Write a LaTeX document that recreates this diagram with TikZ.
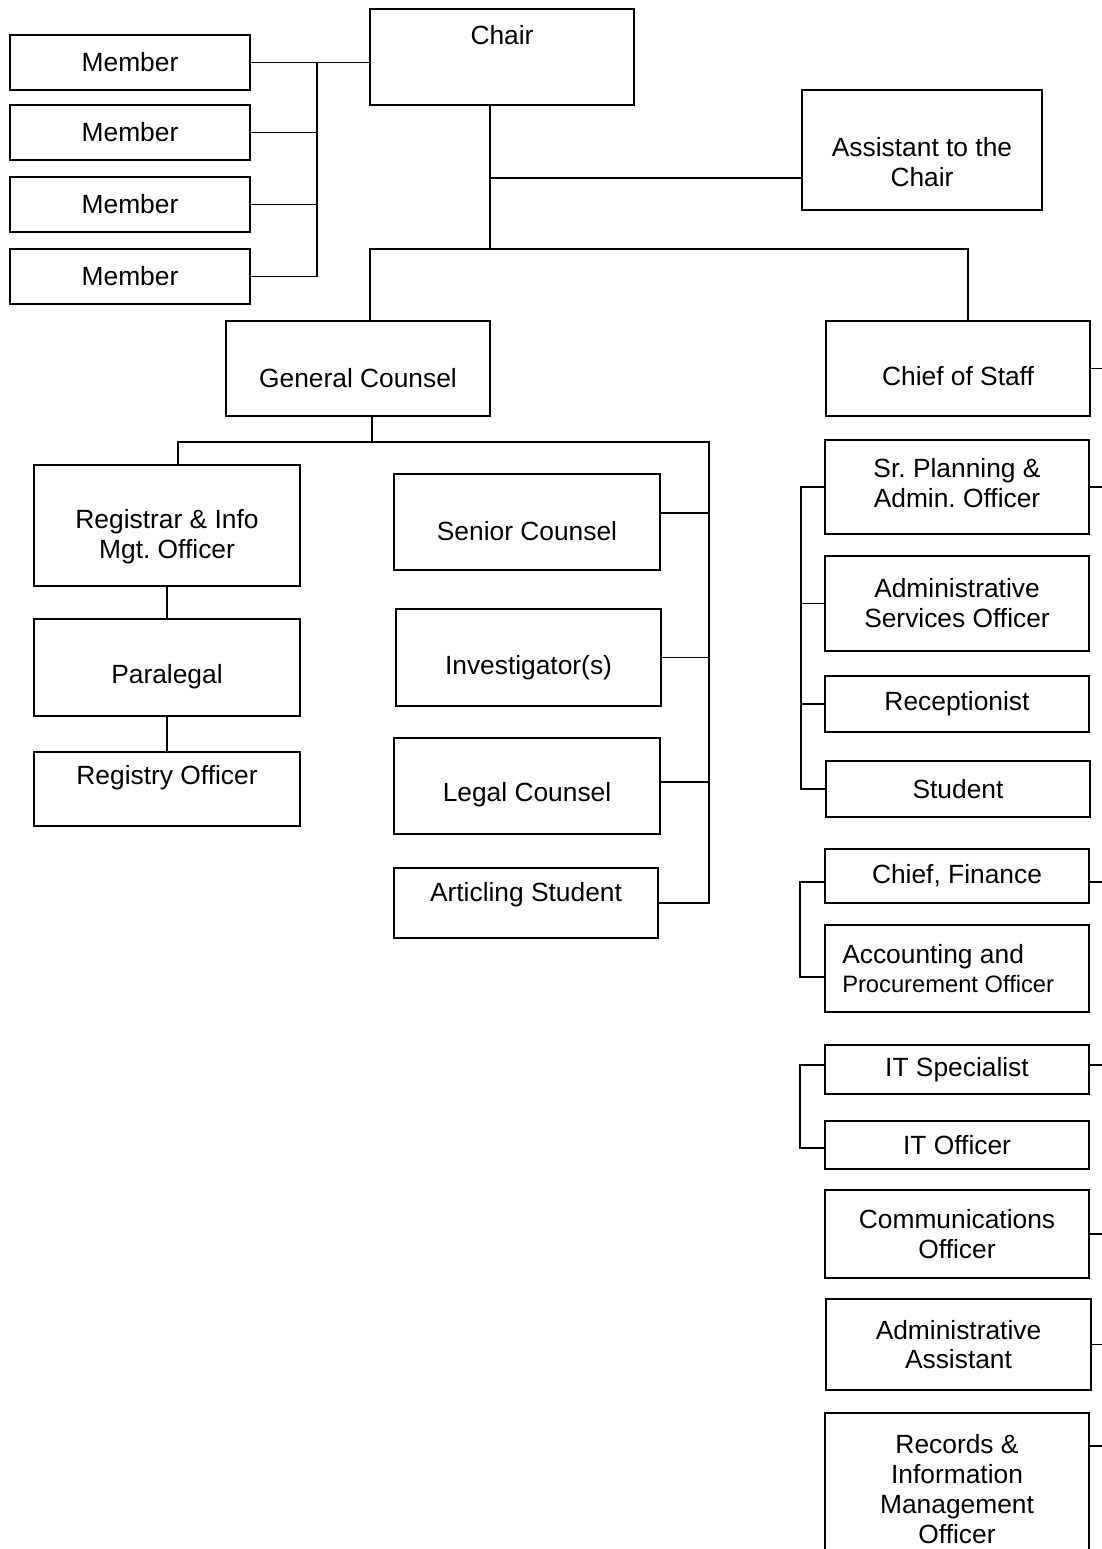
\documentclass[tikz,border=0pt]{standalone}
\usepackage{fontspec}
\setmainfont{Liberation Sans}
\usetikzlibrary{positioning,calc}
\frenchspacing

\tikzset{
  box/.style={draw,line width=1.1pt,inner sep=2pt,align=center,
              font=\fontsize{15}{17}\selectfont},
  txt/.style={align=center,font=\fontsize{15}{17}\selectfont},
  link/.style={line width=1pt}
}

\begin{document}
\begin{tikzpicture}[x=0.02cm,y=-0.02cm]
\useasboundingbox (0,0) rectangle (1102,1549);

% board
\node[box,minimum width=5.28cm,minimum height=1.92cm,
      label={[txt,yshift=0.44cm]center:Chair}] (chair) at (502,57) {};
\node[box,minimum width=4.8cm,minimum height=1.1cm] (mem1) at (130,62.5) {Member};
\node[box,minimum width=4.8cm,minimum height=1.1cm] (mem2) at (130,132.5) {Member};
\node[box,minimum width=4.8cm,minimum height=1.1cm] (mem3) at (130,204.5) {Member};
\node[box,minimum width=4.8cm,minimum height=1.1cm] (mem4) at (130,276.5) {Member};
\node[box,minimum width=4.8cm,minimum height=2.4cm,
      label={[txt,yshift=-0.24cm]center:Assistant to the\\Chair}] (asst) at (922,150) {};

% second level
\node[box,minimum width=5.28cm,minimum height=1.9cm,
      label={[txt,yshift=-0.2cm]center:General Counsel}] (gc) at (358,368.5) {};
\node[box,minimum width=5.28cm,minimum height=1.9cm,
      label={[txt,yshift=-0.16cm]center:Chief of Staff}] (cos) at (958,368.5) {};

% legal side
\node[box,minimum width=5.32cm,minimum height=2.42cm,
      label={[txt,yshift=-0.22cm]center:Registrar \& Info\\Mgt. Officer}] (reg) at (167,525.5) {};
\node[box,minimum width=5.32cm,minimum height=1.94cm,
      label={[txt,yshift=-0.18cm]center:Paralegal}] (para) at (167,667.5) {};
\node[box,minimum width=5.32cm,minimum height=1.48cm,
      label={[txt,yshift=0.22cm]center:Registry Officer}] (regoff) at (167,789) {};
\node[box,minimum width=5.32cm,minimum height=1.92cm,
      label={[txt,yshift=-0.18cm]center:Senior Counsel}] (senior) at (527,522) {};
\node[box,minimum width=5.3cm,minimum height=1.94cm,
      label={[txt,yshift=-0.2cm]center:Investigator(s)}] (invest) at (528.5,657.5) {};
\node[box,minimum width=5.32cm,minimum height=1.92cm,
      label={[txt,yshift=-0.18cm]center:Legal Counsel}] (legal) at (527,786) {};
\node[box,minimum width=5.28cm,minimum height=1.4cm,
      label={[txt,yshift=0.16cm]center:Articling Student}] (artic) at (526,903) {};

% staff side
\node[box,minimum width=5.28cm,minimum height=1.88cm,
      label={[txt,yshift=0.08cm]center:Sr. Planning \&\\Admin. Officer}] (plan) at (957,487) {};
\node[box,minimum width=5.28cm,minimum height=1.9cm] (adsvc) at (957,603.5) {Administrative\\Services Officer};
\node[box,minimum width=5.28cm,minimum height=1.12cm] (recep) at (957,704) {Receptionist};
\node[box,minimum width=5.28cm,minimum height=1.12cm] (stud) at (958,789) {Student};
\node[box,minimum width=5.28cm,minimum height=1.08cm] (fin) at (957,876) {Chief, Finance};
\node[box,minimum width=5.28cm,minimum height=1.74cm,
      label={[txt,align=left,anchor=west,xshift=0.24cm]west:Accounting and\\
             {\fontsize{13.5}{17}\selectfont Procurement Officer}}] (acct) at (957,968.5) {};
\node[box,minimum width=5.28cm,minimum height=0.98cm] (itspec) at (957,1069.5) {IT Specialist};
\node[box,minimum width=5.28cm,minimum height=0.96cm] (itoff) at (957,1145) {IT Officer};
\node[box,minimum width=5.28cm,minimum height=1.76cm] (comm) at (957,1234) {Communications\\Officer};
\node[box,minimum width=5.3cm,minimum height=1.82cm] (adasst) at (958.5,1344.5) {Administrative\\Assistant};
\node[box,minimum width=5.28cm,minimum height=3.04cm] (rim) at (957,1489) {Records \&\\Information\\Management\\Officer};

% bus lines
\coordinate (mbus) at (317,0);
\coordinate (trunk) at (490,249);
\coordinate (gcin) at (370,249);
\coordinate (cosin) at (968,249);
\coordinate (gcfork) at (372,442);
\coordinate (regin) at (178,442);
\coordinate (lbus) at (709,442);
\coordinate (sbus) at (801,0);
\coordinate (fbus) at (800,0);
\coordinate (edge) at (1102,0);

\draw[link] (mem1.east) -- (chair.west |- mem1.east);
\draw[link] (mem1.east -| mbus) -- (mem4.east -| mbus) -- (mem4.east);
\draw[link] (mem2.east) -- (mem2.east -| mbus);
\draw[link] (mem3.east) -- (mem3.east -| mbus);

\draw[link] (trunk |- chair.south) -- (trunk);
\draw[link] ([yshift=-0.56cm]asst.west) -- ([yshift=-0.56cm]asst.west -| trunk);
\draw[link] (gcin |- gc.north) -- (gcin) -- (cosin) -- (cosin |- cos.north);

\draw[link] (gcfork |- gc.south) -- (gcfork);
\draw[link] (regin |- reg.north) -- (regin) -- (lbus) -- (lbus |- artic.east) -- (artic.east);
\draw[link] ([yshift=0.18cm]senior.east) -- ([yshift=0.18cm]senior.east -| lbus);
\draw[link] (invest.east) -- (invest.east -| lbus);
\draw[link] ([yshift=0.08cm]legal.east) -- ([yshift=0.08cm]legal.east -| lbus);
\draw[link] (reg.south) -- (para.north);
\draw[link] (para.south) -- (regoff.north);

\draw[link] (plan.west) -- (plan.west -| sbus) -- (stud.west -| sbus) -- (stud.west);
\draw[link] (adsvc.west) -- (adsvc.west -| sbus);
\draw[link] (recep.west) -- (recep.west -| sbus);

\draw[link] ([yshift=-0.12cm]fin.west) -- ([yshift=-0.12cm]fin.west -| fbus)
  -- ([yshift=-0.17cm]acct.west -| fbus) -- ([yshift=-0.17cm]acct.west);
\draw[link] ([yshift=0.09cm]itspec.west) -- ([yshift=0.09cm]itspec.west -| fbus)
  -- ([yshift=-0.06cm]itoff.west -| fbus) -- ([yshift=-0.06cm]itoff.west);

% stubs to the right
\draw[link] (cos.east) -- (cos.east -| edge);
\draw[link] (plan.east) -- (plan.east -| edge);
\draw[link] ([yshift=-0.12cm]fin.east) -- ([yshift=-0.12cm]fin.east -| edge);
\draw[link] ([yshift=0.09cm]itspec.east) -- ([yshift=0.09cm]itspec.east -| edge);
\draw[link] (comm.east) -- (comm.east -| edge);
\draw[link] (adasst.east) -- (adasst.east -| edge);
\draw[link] ([yshift=-0.68cm]rim.north east) -- ([yshift=-0.68cm]rim.north east -| edge);
\end{tikzpicture}
\end{document}
